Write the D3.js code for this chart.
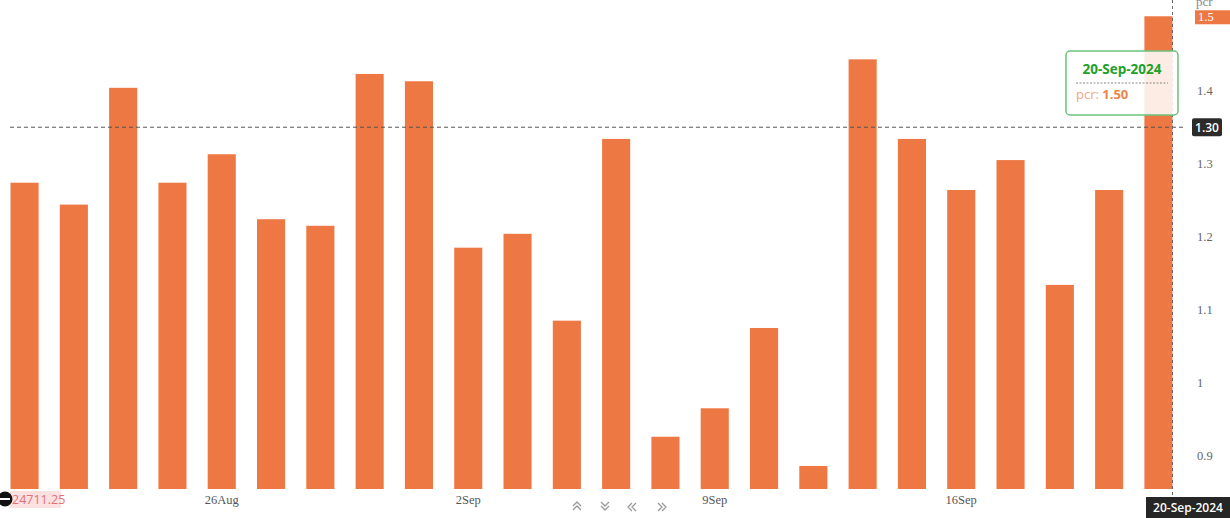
<!DOCTYPE html>
<html>
<head>
<meta charset="utf-8">
<script src="https://cdn.jsdelivr.net/npm/d3@7"></script>
<style>
  html, body { margin: 0; padding: 0; background: #ffffff; overflow: hidden; }
  svg { display: block; }
</style>
</head>
<body>
<svg id="chart" width="1230" height="518"></svg>
<script>
// ---- data ----
const dates = ["20-Aug-2024","21-Aug-2024","22-Aug-2024","23-Aug-2024",
  "26-Aug-2024","27-Aug-2024","28-Aug-2024","29-Aug-2024","30-Aug-2024",
  "02-Sep-2024","03-Sep-2024","04-Sep-2024","05-Sep-2024","06-Sep-2024",
  "09-Sep-2024","10-Sep-2024","11-Sep-2024","12-Sep-2024","13-Sep-2024",
  "16-Sep-2024","17-Sep-2024","18-Sep-2024","19-Sep-2024","20-Sep-2024"];
const pcrValues = [1.273, 1.243, 1.403, 1.273, 1.312, 1.223, 1.214, 1.422, 1.412,
  1.184, 1.203, 1.084, 1.333, 0.925, 0.964, 1.074, 0.885, 1.442,
  1.333, 1.263, 1.304, 1.133, 1.263, 1.501];
const xTickDates = ["26-Aug-2024","02-Sep-2024","09-Sep-2024","16-Sep-2024"];
const xTickLabels = ["26Aug","2Sep","9Sep","16Sep"];
const yTicks = [0.9, 1.0, 1.1, 1.2, 1.3, 1.4];
const yTickLabels = ["0.9","1","1.1","1.2","1.3","1.4"];
const lastLabel = "1.5";
const crossValue = 1.349;
const crossLabel = "1.30";
const hoverDate = "20-Sep-2024";
const hoverValueLabel = "1.50";
const leftValueLabel = "24711.25";
const seriesName = "pcr";

// ---- layout ----
const plotRight = 1183, plotBottom = 489;
const barColor = "#ee7843";
const svg = d3.select("#chart");

const x = d3.scaleBand().domain(dates).range([0, plotRight])
  .paddingInner(0.43).paddingOuter(0.213);
const y = d3.scaleLinear().domain([0.9, 1.5]).range([455, 17]);

// bars
svg.append("g").selectAll("rect").data(dates).join("rect")
  .attr("x", d => x(d))
  .attr("width", x.bandwidth())
  .attr("y", (d, i) => y(pcrValues[i]))
  .attr("height", (d, i) => plotBottom - y(pcrValues[i]))
  .attr("fill", barColor);

// y axis labels
const yAxis = d3.axisRight(y).tickValues(yTicks)
  .tickFormat((d, i) => yTickLabels[i]).tickSize(0).tickPadding(0);
const gy = svg.append("g").attr("transform", `translate(1197,0)`).call(yAxis);
gy.select(".domain").remove();
gy.selectAll("text").attr("font-family", "Liberation Serif, serif")
  .attr("font-size", 12.5).attr("fill", "#666");

// series name at top (partly cut off, as in the original)
svg.append("text").attr("x", 1196).attr("y", 6).text(seriesName)
  .attr("font-family", "Liberation Serif, serif").attr("font-size", 13).attr("fill", "#888");

// last value label
const lastY = y(pcrValues[pcrValues.length - 1]);
svg.append("rect").attr("x", 1195).attr("y", lastY - 6).attr("width", 35).attr("height", 14)
  .attr("fill", barColor);
svg.append("text").attr("x", 1198).attr("y", lastY + 5).text(lastLabel)
  .attr("font-family", "Liberation Serif, serif").attr("font-size", 12.5).attr("fill", "#fff");

// x axis labels
const xAxis = d3.axisBottom(x).tickValues(xTickDates)
  .tickFormat(d => xTickLabels[xTickDates.indexOf(d)]).tickSize(0).tickPadding(0);
const gx = svg.append("g").attr("transform", `translate(0,495)`).call(xAxis);
gx.select(".domain").remove();
gx.selectAll("text").attr("font-family", "Liberation Serif, serif")
  .attr("font-size", 12.5).attr("fill", "#555");

// crosshair
const cy = y(crossValue);
const cx = x(hoverDate) + x.bandwidth();
svg.append("line").attr("x1", 10).attr("x2", plotRight + 2).attr("y1", cy).attr("y2", cy)
  .attr("stroke", "#555").attr("stroke-width", 1).attr("stroke-dasharray", "4,3");
svg.append("line").attr("x1", cx).attr("x2", cx).attr("y1", 0).attr("y2", 497)
  .attr("stroke", "#666").attr("stroke-width", 1).attr("stroke-dasharray", "3,3");

// crosshair y label
svg.append("rect").attr("x", 1192).attr("y", cy - 9).attr("width", 30).attr("height", 18)
  .attr("rx", 2).attr("fill", "#2b2b2b");
svg.append("text").attr("x", 1207).attr("y", cy + 4.5).attr("text-anchor", "middle")
  .text(crossLabel).attr("font-family", "Open Sans, sans-serif").attr("font-size", 12)
  .attr("font-weight", 600).attr("fill", "#fff");

// crosshair x label
svg.append("rect").attr("x", 1146).attr("y", 497).attr("width", 84).attr("height", 21)
  .attr("fill", "#262626");
svg.append("text").attr("x", 1188).attr("y", 512).attr("text-anchor", "middle")
  .text(hoverDate).attr("font-family", "Open Sans, sans-serif").attr("font-size", 12)
  .attr("font-weight", 600).attr("fill", "#fff");

// tooltip
const tt = svg.append("g").attr("transform", "translate(1066,51)");
tt.append("rect").attr("width", 112).attr("height", 64).attr("rx", 4)
  .attr("fill", "#ffffff").attr("fill-opacity", 0.86)
  .attr("stroke", "#6cc27c").attr("stroke-width", 1.5);
tt.append("text").attr("x", 56).attr("y", 23).attr("text-anchor", "middle")
  .text(hoverDate).attr("font-family", "Open Sans, sans-serif").attr("font-size", 13.5)
  .attr("font-weight", 700).attr("fill", "#22a02a");
tt.append("line").attr("x1", 10).attr("x2", 102).attr("y1", 32).attr("y2", 32)
  .attr("stroke", "#888").attr("stroke-dasharray", "2,1.5");
const tline = tt.append("text").attr("x", 10).attr("y", 48)
  .attr("font-family", "Open Sans, sans-serif").attr("font-size", 13);
tline.append("tspan").text(seriesName + ": ").attr("fill", "#f0a585");
tline.append("tspan").text(hoverValueLabel).attr("fill", "#ee8448").attr("font-weight", 700);

// left bottom value label
svg.append("rect").attr("x", 10).attr("y", 491).attr("width", 51).attr("height", 17)
  .attr("fill", "#fde0e0");
svg.append("text").attr("x", 12).attr("y", 504).text(leftValueLabel)
  .attr("font-family", "Open Sans, sans-serif").attr("font-size", 12.5).attr("fill", "#e0707a");
svg.append("circle").attr("cx", 5).attr("cy", 499).attr("r", 7.5).attr("fill", "#111");
svg.append("line").attr("x1", 0).attr("x2", 10).attr("y1", 499).attr("y2", 499)
  .attr("stroke", "#fff").attr("stroke-width", 2);

// navigation chevrons
const nav = svg.append("g").attr("fill", "none").attr("stroke", "#999").attr("stroke-width", 1.3);
const chevrons = [
  {cx: 577, d: "M-4,2 L0,-2 L4,2 M-4,6 L0,2 L4,6", oy: -3},
  {cx: 605, d: "M-4,-2 L0,2 L4,-2 M-4,2 L0,6 L4,2", oy: -3},
  {cx: 633, d: "M-1,-4 L-5,0 L-1,4 M3,-4 L-1,0 L3,4", oy: 0},
  {cx: 661, d: "M-3,-4 L1,0 L-3,4 M1,-4 L5,0 L1,4", oy: 0}
];
chevrons.forEach(c => nav.append("path").attr("d", c.d)
  .attr("transform", `translate(${c.cx},${507 + c.oy})`));
</script>
</body>
</html>
